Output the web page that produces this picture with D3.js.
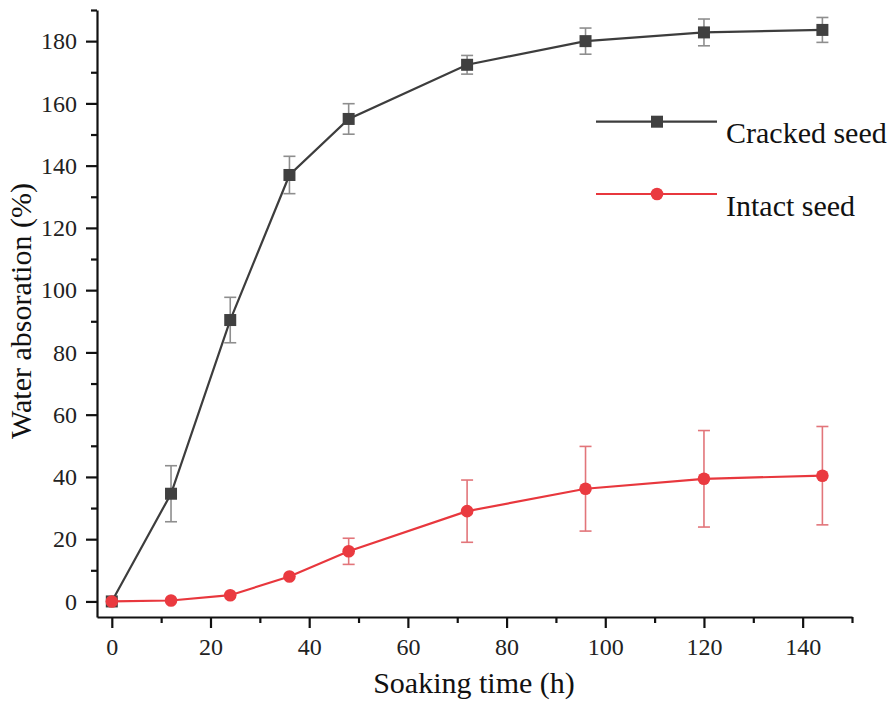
<!DOCTYPE html>
<html>
<head>
<meta charset="utf-8">
<script src="https://cdn.jsdelivr.net/npm/d3@7"></script>
<style>
  body { margin: 0; background: #fff; }
  svg { display: block; font-family: "Liberation Serif", "DejaVu Serif", serif; }
</style>
</head>
<body>
<div id="plot"></div>
<script>
// ---------- data ---------- //
var hours = [0, 12, 24, 36, 48, 72, 96, 120, 144];
var cracked = [0, 34.6, 90.4, 137, 155, 172.4, 180, 182.8, 183.6];
var crackedErr = [0, 9, 7.3, 6, 4.9, 3, 4.2, 4.3, 4];
var intact = [0, 0.3, 2, 8, 16.1, 29, 36.2, 39.4, 40.4];
var intactErr = [0, 0, 0, 0, 4.2, 10, 13.6, 15.5, 15.8];

var xMajor = [0, 20, 40, 60, 80, 100, 120, 140];
var xMinor = [10, 30, 50, 70, 90, 110, 130, 150];
var yMajor = [0, 20, 40, 60, 80, 100, 120, 140, 160, 180];
var yMinor = [10, 30, 50, 70, 90, 110, 130, 150, 170, 190];

var seriesNames = ["Cracked seed", "Intact seed"];

var drawPlot = function() {
  var width = 896, height = 712;

  var x = d3.scaleLinear().domain([-3, 150]).range([97, 852]);
  var y = d3.scaleLinear().domain([-5, 190]).range([617, 10]);

  var svg = d3.select("#plot").append("svg")
      .attr("width", width)
      .attr("height", height);

  // axes
  var xAxis = g => g
      .attr("transform", "translate(0,617)")
      .call(d3.axisBottom(x).tickValues(xMajor).tickSize(11).tickSizeOuter(0).tickPadding(10));
  var xMinorAxis = g => g
      .attr("transform", "translate(0,617)")
      .call(d3.axisBottom(x).tickValues(xMinor).tickSize(6).tickSizeOuter(0).tickFormat(""))
      .call(g => g.select(".domain").remove());

  var yAxis = g => g
      .attr("transform", "translate(97,0)")
      .call(d3.axisLeft(y).tickValues(yMajor).tickSize(11).tickSizeOuter(0).tickPadding(9));
  var yMinorAxis = g => g
      .attr("transform", "translate(97,0)")
      .call(d3.axisLeft(y).tickValues(yMinor).tickSize(6).tickSizeOuter(0).tickFormat(""))
      .call(g => g.select(".domain").remove());

  [xAxis, xMinorAxis, yAxis, yMinorAxis].forEach(function(a) {
    svg.append("g").call(a)
      .attr("font-family", null)
      .attr("font-size", 24)
      .call(g => g.selectAll("text").attr("fill", "#222"))
      .call(g => g.selectAll(".domain, line").attr("stroke", "#111").attr("stroke-width", 2.2));
  });

  // axis titles
  svg.append("text")
      .attr("x", 474).attr("y", 693)
      .attr("text-anchor", "middle")
      .attr("font-size", 30)
      .attr("fill", "#111")
      .text("Soaking time (h)");

  svg.append("text")
      .attr("transform", "translate(31,311) rotate(-90)")
      .attr("text-anchor", "middle")
      .attr("font-size", 30)
      .attr("fill", "#111")
      .text("Water absoration (%)");

  var series = [
    {name: seriesNames[0], vals: cracked, err: crackedErr, line: "#3d3d3d", mark: "#404040", bar: "#8e8e8e", shape: "square"},
    {name: seriesNames[1], vals: intact, err: intactErr, line: "#e8373d", mark: "#ea3a40", bar: "#e2757a", shape: "circle"}
  ];

  var line = d3.line().x(d => x(d[0])).y(d => y(d[1]));

  series.forEach(function(s) {
    var pts = hours.map((h, i) => [h, s.vals[i], s.err[i]]);
    var g = svg.append("g");

    // error bars
    var eb = g.append("g").attr("stroke", s.bar).attr("stroke-width", 1.6).attr("fill", "none");
    pts.filter(d => d[2] > 0).forEach(function(d) {
      var cx = x(d[0]), y1 = y(d[1] + d[2]), y2 = y(d[1] - d[2]);
      eb.append("line").attr("x1", cx).attr("x2", cx).attr("y1", y1).attr("y2", y2);
      eb.append("line").attr("x1", cx - 6).attr("x2", cx + 6).attr("y1", y1).attr("y2", y1);
      eb.append("line").attr("x1", cx - 6).attr("x2", cx + 6).attr("y1", y2).attr("y2", y2);
    });

    g.append("path")
      .datum(pts)
      .attr("fill", "none")
      .attr("stroke", s.line)
      .attr("stroke-width", 2.2)
      .attr("d", line);

    if (s.shape == "square") {
      g.selectAll("rect").data(pts).join("rect")
        .attr("x", d => x(d[0]) - 6).attr("y", d => y(d[1]) - 6)
        .attr("width", 12).attr("height", 12)
        .attr("fill", s.mark);
    } else {
      g.selectAll("circle").data(pts).join("circle")
        .attr("cx", d => x(d[0])).attr("cy", d => y(d[1]))
        .attr("r", 6.3)
        .attr("fill", s.mark);
    }
  });

  // legend
  var legendY = [121.7, 194];
  series.forEach(function(s, i) {
    var lg = svg.append("g").attr("transform", `translate(0,${legendY[i]})`);
    lg.append("line").attr("x1", 596).attr("x2", 717).attr("y1", 0).attr("y2", 0)
      .attr("stroke", s.line).attr("stroke-width", 2.2);
    if (s.shape == "square") {
      lg.append("rect").attr("x", 651).attr("y", -6).attr("width", 12).attr("height", 12).attr("fill", s.mark);
    } else {
      lg.append("circle").attr("cx", 657).attr("cy", 0).attr("r", 6.3).attr("fill", s.mark);
    }
    lg.append("text").attr("x", 726).attr("y", 21.5)
      .attr("font-size", 30).attr("fill", "#111")
      .text(s.name);
  });
}

drawPlot();
</script>
</body>
</html>
